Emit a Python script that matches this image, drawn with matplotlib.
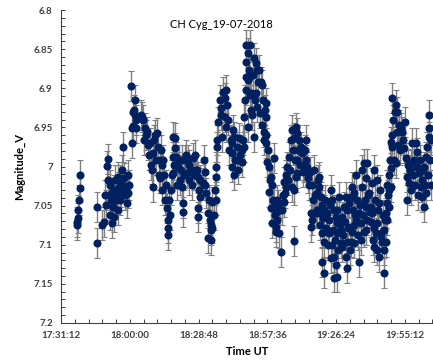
import matplotlib
matplotlib.use("Agg")
import matplotlib.pyplot as plt
from matplotlib.ticker import MultipleLocator, FuncFormatter

# time in minutes after 17:00 UT, V magnitude
t_min = [
    37.9, 37.9, 38.3, 38.3, 38.7, 39.1, 39.1,
    46.2, 46.2, 48.3, 49.1, 49.6, 50.0, 50.4, 50.8, 50.8, 51.2, 51.7, 51.7, 52.1,
    52.5, 52.5, 52.9, 53.3, 53.3, 53.8, 54.2, 54.6, 55.0, 55.0, 55.4, 55.8, 55.8,
    56.2, 56.7, 56.7, 57.1, 57.5, 57.9, 58.3, 58.7, 59.2, 59.2, 59.6,
    60.4, 60.8, 60.8, 61.2, 61.2, 61.7, 62.1, 62.1, 62.5, 62.5,
    64.6, 65.0, 65.4, 65.8, 66.3, 66.7, 67.1, 67.5, 67.9, 68.3, 68.8, 69.2, 69.6,
    69.6, 70.0, 70.4, 70.9, 71.3, 71.7, 72.1, 72.5, 72.5, 72.9, 73.4, 73.4, 73.8,
    74.2, 74.6, 75.0, 75.4, 75.9, 75.9, 75.9, 76.3, 76.7, 77.1, 77.5, 77.9, 77.9,
    77.9, 78.4, 78.8, 78.8, 79.2, 79.6, 80.0, 80.5, 80.9, 81.3, 81.7, 81.7, 82.1,
    82.1, 82.5, 83.0, 83.4, 83.8, 84.2, 84.6, 85.0, 85.5, 85.9, 86.3, 86.7, 87.1,
    87.6, 88.0, 88.4, 88.4, 88.4, 88.8, 89.2, 89.6, 90.5, 90.9, 91.3, 91.7, 92.1,
    92.6, 92.6, 93.0, 93.4, 93.8, 94.2, 94.2, 94.6, 94.6, 95.1, 95.5, 95.9, 96.3,
    96.3, 96.7, 96.7,
    97.1, 97.6, 98.0, 98.4, 98.8, 99.2, 99.7, 99.7, 100.1, 100.5, 100.9, 101.3,
    101.7, 102.2, 102.6, 102.6, 103.0, 103.4, 103.8, 103.8, 104.2, 104.7, 105.1,
    105.5, 105.9, 106.3, 106.8, 107.2, 107.6, 108.0, 108.0,
    108.4, 108.8, 108.8, 108.8, 108.8, 109.3, 109.3, 109.7, 110.1, 110.1, 110.5,
    110.5, 110.9, 110.9, 111.3, 111.8, 112.2, 112.2, 112.6, 113.0, 113.0, 113.4,
    113.4, 113.9, 114.3, 114.7, 115.1, 115.5, 115.5, 116.0, 116.4, 116.4, 116.8,
    117.2, 117.2, 117.2, 117.2, 117.6,
    118.0, 118.4, 118.4, 118.9, 119.3, 119.3, 119.7, 119.7, 120.1, 120.5, 120.5,
    120.9, 121.4, 121.4, 121.4, 121.8, 121.8, 122.2, 122.6, 123.0, 123.4, 123.9,
    124.3,
    124.7, 124.7, 125.1, 125.5, 125.5, 125.9, 126.4, 126.8, 127.2, 127.6, 128.0,
    128.0, 128.5, 128.9, 128.9, 128.9, 129.3, 129.7, 129.7, 130.1, 130.1, 130.1,
    130.5, 131.0, 131.4, 131.8, 132.2, 132.6, 133.0, 133.5, 133.9, 133.9,
    134.3, 134.7, 135.1, 135.5, 136.0, 136.0, 136.4, 136.4, 136.8, 137.2, 137.2,
    137.6, 138.0, 138.5, 138.5, 138.9, 139.3, 139.3, 139.3, 139.7, 140.1, 140.6,
    140.6, 140.6, 141.0, 141.4, 141.4, 141.4, 141.8, 142.2, 142.6, 143.1, 143.5,
    143.5,
    143.9, 144.3, 144.3, 144.7, 144.7, 145.2, 145.6, 145.6, 145.6, 146.0, 146.4,
    146.4, 146.8, 146.8, 146.8, 146.8, 147.2, 147.7, 148.1, 148.5, 148.5, 148.9,
    148.9, 149.3, 149.7, 150.2, 150.6, 150.6, 151.0, 151.0, 151.0, 151.4, 151.8,
    152.2, 152.7, 152.7, 152.7, 153.1, 153.1, 153.5, 153.9, 153.9, 153.9, 154.3,
    154.8, 154.8, 155.2, 155.6, 156.0, 156.0, 156.4, 156.8, 156.8, 157.3, 157.3,
    157.7, 158.1, 158.1, 158.5, 158.9, 158.9, 158.9, 159.3, 159.3, 159.8, 160.2,
    160.6, 161.0, 161.0, 161.4, 161.4, 161.8, 162.3, 162.3, 162.3, 162.7, 163.1,
    163.5, 163.5, 163.5, 163.9, 164.4, 164.4, 164.8, 165.2, 165.2, 165.6, 166.0,
    166.4, 166.4, 166.4, 166.9, 167.3, 167.3, 167.7, 167.7, 167.7, 168.1, 168.5,
    168.5, 168.5, 169.0, 169.4, 169.4, 169.4,
    169.8, 169.8, 169.8, 170.2, 170.6, 171.0, 171.5, 171.5, 171.9, 171.9, 172.3,
    172.7, 173.1, 173.5, 174.0, 174.4, 174.8, 175.2, 175.6,
    176.0, 176.0, 176.5, 176.9, 177.3, 177.7, 177.7, 178.1, 178.5, 179.0, 179.4,
    179.8, 180.2, 180.2, 180.6, 181.1, 181.5, 181.9, 182.3, 182.3, 182.7, 183.1,
    183.1, 183.6, 184.0, 184.0, 184.4, 184.8, 185.2, 185.2, 185.2, 185.6, 186.1,
    186.1,
]
mag_v = [
    7.071, 7.075, 7.066, 7.056, 7.043, 7.027, 7.011,
    7.098, 7.052, 7.075, 7.071, 7.036, 7.049, 6.999, 6.990, 7.017, 7.036, 7.024, 7.062, 7.043,
    7.034, 7.072, 7.052, 7.065, 7.030, 7.017, 7.043, 7.036, 7.013, 7.056, 7.026, 7.043, 7.017,
    7.033, 7.004, 7.024, 6.975, 7.015, 7.036, 7.027, 7.047, 7.034, 7.011, 7.024,
    6.897, 6.970, 6.951, 6.948, 6.930, 6.928, 6.934, 6.915, 6.951, 6.941,
    6.934, 6.937, 6.941, 6.966, 6.951, 6.960, 6.956, 6.973, 6.985, 6.970, 6.998, 7.004, 6.983,
    7.026, 6.966, 6.960, 6.992, 6.957, 6.975, 7.011, 7.015, 6.992, 6.979, 7.030, 6.998, 6.992,
    7.011, 7.043, 7.024, 7.053, 7.068, 7.079, 7.088, 7.043, 7.062, 7.030, 7.011, 6.962, 6.988,
    7.008, 6.998, 6.964, 6.976, 6.988, 7.024, 7.001, 6.992, 7.017, 7.004, 7.026, 6.992, 7.047,
    7.058, 7.011, 6.992, 6.985, 7.008, 6.992, 7.017, 6.998, 7.004, 7.024, 6.989, 7.011, 6.985,
    7.004, 7.004, 7.013, 7.053, 7.065, 7.030, 7.039, 7.017, 7.021, 6.992, 7.007, 7.024, 7.034,
    7.060, 7.091, 7.043, 7.068, 7.075, 7.081, 7.094, 7.045, 7.079, 7.062, 7.030, 7.043, 7.013,
    7.001, 6.975, 6.966,
    6.943, 6.915, 6.934, 6.925, 6.962, 6.905, 6.912, 6.937, 6.902, 6.950, 6.921, 6.941,
    6.979, 6.966, 6.970, 6.983, 7.001, 6.953, 6.962, 7.011, 6.992, 6.975, 6.992,
    7.004, 6.964, 6.985, 6.979, 6.994, 6.966, 6.975, 6.937,
    6.915, 6.845, 6.866, 6.886, 6.902, 6.855, 6.950, 6.889, 6.877, 6.886, 6.845,
    6.909, 6.906, 6.928, 6.934, 6.883, 6.861, 6.962, 6.915, 6.868, 6.906, 6.877,
    6.924, 6.892, 6.877, 6.932, 6.892, 6.896, 6.947, 6.915, 6.956, 6.966, 6.928,
    6.919, 6.937, 6.960, 6.970, 6.994,
    6.979, 7.001, 7.033, 7.017, 7.013, 7.053, 7.024, 7.072, 7.043, 6.989, 7.045,
    7.062, 7.058, 7.077, 7.084, 7.043, 7.068, 7.049, 7.085, 7.056, 7.109, 7.056,
    7.036,
    7.020, 7.045, 7.034, 7.011, 7.026, 7.001, 7.017, 6.988, 7.004, 6.966, 6.953,
    7.026, 6.979, 6.964, 7.030, 7.095, 6.992, 6.950, 7.013, 6.957, 6.992, 7.008,
    6.979, 6.966, 6.998, 6.975, 6.983, 7.007, 7.001, 6.979, 6.966, 6.992,
    7.001, 7.015, 7.024, 7.007, 7.059, 7.077, 7.024, 7.068, 7.043, 7.004, 7.059,
    7.036, 7.059, 7.034, 7.056, 7.017, 7.013, 7.026, 7.059, 7.075, 7.039, 7.049,
    7.085, 7.122, 7.066, 7.056, 7.097, 7.136, 7.043, 7.079, 7.059, 7.100, 7.068,
    7.085,
    7.049, 7.030, 7.117, 7.043, 7.100, 7.081, 7.056, 7.116, 7.142, 7.094, 7.065,
    7.126, 7.056, 7.072, 7.085, 7.141, 7.107, 7.039, 7.075, 7.081, 7.098, 7.065,
    7.103, 7.088, 7.052, 7.071, 7.039, 7.116, 7.056, 7.097, 7.130, 7.079, 7.047,
    7.107, 7.039, 7.077, 7.097, 7.026, 7.084, 7.056, 7.034, 7.075, 7.098, 7.062,
    7.011, 7.068, 7.043, 7.088, 7.059, 7.122, 7.049, 7.072, 7.094, 7.004, 7.026,
    7.062, 6.996, 7.084, 7.043, 7.015, 7.052, 7.081, 7.068, 6.996, 7.036, 7.034,
    7.058, 7.052, 7.071, 7.021, 7.059, 7.094, 7.004, 7.079, 7.103, 7.043, 7.085,
    7.017, 7.072, 7.107, 7.056, 7.047, 7.116, 7.030, 7.090, 7.085, 7.097, 7.062,
    7.081, 7.107, 7.136, 7.068, 7.059, 7.097, 7.047, 7.024, 7.068, 7.036, 7.011,
    7.030, 7.052, 6.992, 7.002, 6.969, 7.026,
    6.912, 6.960, 6.975, 6.941, 6.992, 6.930, 6.921, 6.996, 6.930, 6.956, 6.973,
    6.947, 6.979, 6.951, 6.956, 6.966, 6.976, 6.943, 6.989,
    7.013, 7.043, 6.998, 7.021, 7.004, 7.030, 6.996, 6.970, 7.011, 6.992, 7.024,
    6.970, 6.982, 7.001, 7.036, 7.008, 6.992, 7.026, 7.017, 7.039, 7.004, 7.001,
    7.052, 7.024, 6.988, 7.034, 6.975, 7.011, 6.962, 6.951, 6.934, 6.992, 6.966,
    7.024,
]
mag_err = 0.019
t_start = 31.2  # 17:31:12

def hms(x, pos):
    s = int(round((17 * 60 + x) * 60))
    return "%d:%02d:%02d" % (s // 3600, (s // 60) % 60, s % 60)

plt.rcParams['font.family'] = ['Lato', 'DejaVu Sans']

fig = plt.figure(figsize=(4.33, 3.6), dpi=100)
ax = fig.add_axes([0.141, 0.103, 0.859, 0.869])

ax.errorbar(t_min, mag_v, yerr=mag_err, fmt='o', color='#002060', ms=4.8,
            ecolor='#808080', elinewidth=1, capsize=2.5, capthick=0.8, zorder=3)

ax.set_xlim(t_start, 187)
ax.set_ylim(7.2, 6.8)
ax.xaxis.set_major_locator(MultipleLocator(28.8, offset=t_start))
ax.xaxis.set_minor_locator(MultipleLocator(5.76, offset=t_start))
ax.xaxis.set_major_formatter(FuncFormatter(hms))
ax.yaxis.set_major_locator(MultipleLocator(0.05))
ax.yaxis.set_minor_locator(MultipleLocator(0.01))
ax.yaxis.set_major_formatter(FuncFormatter(lambda v, p: ('%.2f' % v).rstrip('0').rstrip('.')))

for s in ['top', 'right']:
    ax.spines[s].set_visible(False)
for s in ['left', 'bottom']:
    ax.spines[s].set_color('#404040')
    ax.spines[s].set_linewidth(0.8)
ax.tick_params(which='both', direction='in', color='#404040', length=3, width=0.7)
ax.tick_params(which='major', labelsize=7, labelcolor='#404040', pad=6)
for lab in ax.get_xticklabels() + ax.get_yticklabels():
    lab.set_fontweight('bold')

ax.set_xlabel('Time UT', fontsize=8, fontweight='bold', labelpad=4)
ax.set_ylabel('Magnitude_V', fontsize=8, fontweight='bold', labelpad=6)
ax.text(0.43, 0.955, 'CH Cyg_19-07-2018', transform=ax.transAxes, ha='center',
        va='center', fontsize=8)

fig.savefig('out.png', dpi=100)
